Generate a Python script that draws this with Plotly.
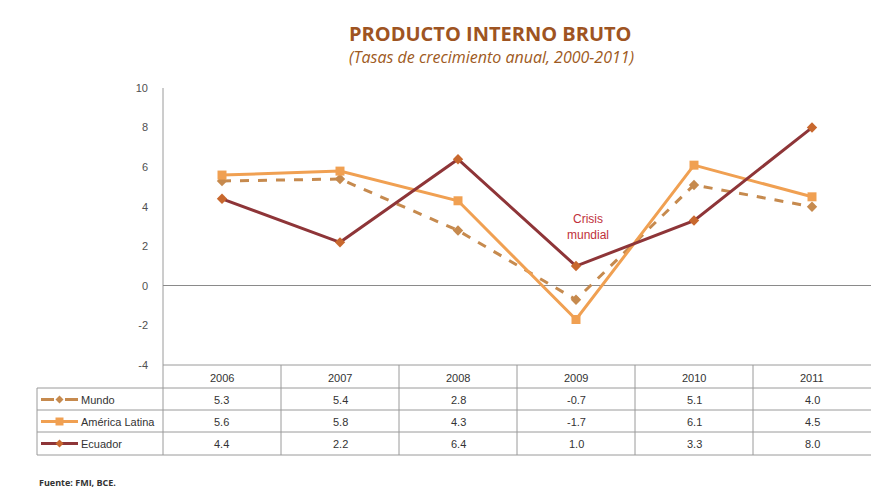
import plotly.graph_objects as go

W, H = 872, 489
years = ["2006", "2007", "2008", "2009", "2010", "2011"]
mundo = [5.3, 5.4, 2.8, -0.7, 5.1, 4.0]
america_latina = [5.6, 5.8, 4.3, -1.7, 6.1, 4.5]
ecuador = [4.4, 2.2, 6.4, 1.0, 3.3, 8.0]
series_names = ["Mundo", "América Latina", "Ecuador"]
y_ticks = [10, 8, 6, 4, 2, 0, -2, -4]

series_values = [mundo, america_latina, ecuador]
line_colors = ["#C68A4E", "#F0A052", "#8E3538"]
marker_colors = ["#C68A4E", "#F0A052", "#C8682E"]
dashes = ["dash", "solid", "solid"]
symbols = ["diamond", "square", "diamond"]

# pixel layout
PL, PR, PT, PB = 163, 871, 88, 365
def px(x):
    return x / W
def py(y):
    return 1 - y / H

fig = go.Figure()
for name, vals, lc, mc, d, s in zip(series_names, series_values, line_colors, marker_colors, dashes, symbols):
    fig.add_trace(go.Scatter(
        x=years, y=vals, name=name, mode="lines+markers",
        line=dict(color=lc, width=3, dash=d),
        marker=dict(symbol=s, size=9 if s == "square" else 8, color=mc),
        showlegend=False,
    ))

fig.update_layout(
    width=W, height=H, autosize=False,
    margin=dict(l=0, r=0, t=0, b=0, pad=0, autoexpand=False),
    paper_bgcolor="white", plot_bgcolor="rgba(0,0,0,0)",
    font=dict(family="Open Sans, Liberation Sans, sans-serif", color="#404040"),
    xaxis=dict(domain=[px(PL), px(PR)], type="category", range=[-0.5, 5.5],
               showticklabels=False, showgrid=False, zeroline=False, showline=False),
    yaxis=dict(domain=[py(PB), py(PT)], range=[-4, 10], tickvals=y_ticks,
               ticktext=[str(v) for v in y_ticks], showgrid=False,
               zeroline=True, zerolinecolor="#8A8A8A", zerolinewidth=1,
               showline=False, ticks="", ticklen=0, ticklabelstandoff=14,
               tickfont=dict(size=11, color="#505050",
                             family="Liberation Sans, Arial, sans-serif")),
)

shapes = []
line_style = dict(color="#9A9A9A", width=1)
# y axis line (extends through table)
shapes.append(dict(type="line", xref="paper", yref="paper", x0=px(PL), x1=px(PL),
                   y0=py(PT), y1=py(455), line=line_style, layer="below"))
# horizontal table lines
shapes.append(dict(type="line", xref="paper", yref="paper", x0=px(PL), x1=px(PR),
                   y0=py(PB), y1=py(PB), line=line_style, layer="below"))
row_lines = [388, 410, 432, 455]
for yy in row_lines:
    shapes.append(dict(type="line", xref="paper", yref="paper", x0=px(37), x1=px(PR),
                       y0=py(yy), y1=py(yy), line=line_style))
# left border of legend column
shapes.append(dict(type="line", xref="paper", yref="paper", x0=px(37), x1=px(37),
                   y0=py(388), y1=py(455), line=line_style))
# vertical separators between years
col_w = (PR - PL) / len(years)
for i in range(1, len(years)):
    xx = PL + i * col_w
    shapes.append(dict(type="line", xref="paper", yref="paper", x0=px(xx), x1=px(xx),
                       y0=py(PB), y1=py(455), line=line_style))

annotations = []
tbl_font = dict(size=11, color="#333333", family="Liberation Sans, Arial, sans-serif")
# header years
for i, yr in enumerate(years):
    cx = PL + (i + 0.5) * col_w
    annotations.append(dict(xref="paper", yref="paper", x=px(cx), y=py(377.5), text=yr,
                            showarrow=False, font=tbl_font, xanchor="center", yanchor="middle"))
row_centers = [399.5, 421.5, 443.5]
for r, (name, vals) in enumerate(zip(series_names, series_values)):
    cy = row_centers[r]
    for i, v in enumerate(vals):
        cx = PL + (i + 0.5) * col_w
        annotations.append(dict(xref="paper", yref="paper", x=px(cx), y=py(cy), text=f"{v:.1f}",
                                showarrow=False, font=tbl_font, xanchor="center", yanchor="middle"))
    annotations.append(dict(xref="paper", yref="paper", x=px(79), y=py(cy), text=name,
                            showarrow=False, font=tbl_font, xanchor="left", yanchor="middle"))
    # legend sample lines
    lc, mc, d, s = line_colors[r], marker_colors[r], dashes[r], symbols[r]
    if d == "dash":
        for (a, b) in [(41, 54), (65, 78)]:
            shapes.append(dict(type="line", xref="paper", yref="paper", x0=px(a), x1=px(b),
                               y0=py(cy), y1=py(cy), line=dict(color=lc, width=3)))
    else:
        shapes.append(dict(type="line", xref="paper", yref="paper", x0=px(41), x1=px(78),
                           y0=py(cy), y1=py(cy), line=dict(color=lc, width=3)))
    # legend sample marker
    mx, h = 59.5, 4
    if s == "diamond":
        pts = [(mx, cy - h), (mx + h, cy), (mx, cy + h), (mx - h, cy)]
    else:
        pts = [(mx - h, cy - h), (mx + h, cy - h), (mx + h, cy + h), (mx - h, cy + h)]
    path = "M " + " L ".join(f"{px(a):.5f},{py(b):.5f}" for a, b in pts) + " Z"
    shapes.append(dict(type="path", xref="paper", yref="paper", path=path,
                       fillcolor=mc, line=dict(color=mc, width=0)))

# titles
annotations.append(dict(xref="paper", yref="paper", x=px(490), y=py(33), text="<b>PRODUCTO INTERNO BRUTO</b>",
                        showarrow=False, xanchor="center", yanchor="middle",
                        font=dict(size=20, color="#9E5422", family="Open Sans, sans-serif")))
annotations.append(dict(xref="paper", yref="paper", x=px(491), y=py(57), text="<i>(Tasas de crecimiento anual, 2000-2011)</i>",
                        showarrow=False, xanchor="center", yanchor="middle",
                        font=dict(size=16, color="#9E5A22", family="Open Sans, sans-serif")))
annotations.append(dict(xref="paper", yref="paper", x=px(588), y=py(227), text="Crisis<br>mundial",
                        showarrow=False, xanchor="center", yanchor="middle",
                        font=dict(size=12, color="#C0303A", family="Liberation Sans, Arial, sans-serif")))
annotations.append(dict(xref="paper", yref="paper", x=px(37), y=py(482), text="<b>Fuente: FMI, BCE.</b>",
                        showarrow=False, xanchor="left", yanchor="middle",
                        font=dict(size=9, color="#333333", family="Open Sans, sans-serif")))

fig.update_layout(shapes=shapes, annotations=annotations)
fig.write_html("out.html", config={"displayModeBar": False},
               post_script="document.body.style.margin='0';document.body.style.overflow='hidden';")
